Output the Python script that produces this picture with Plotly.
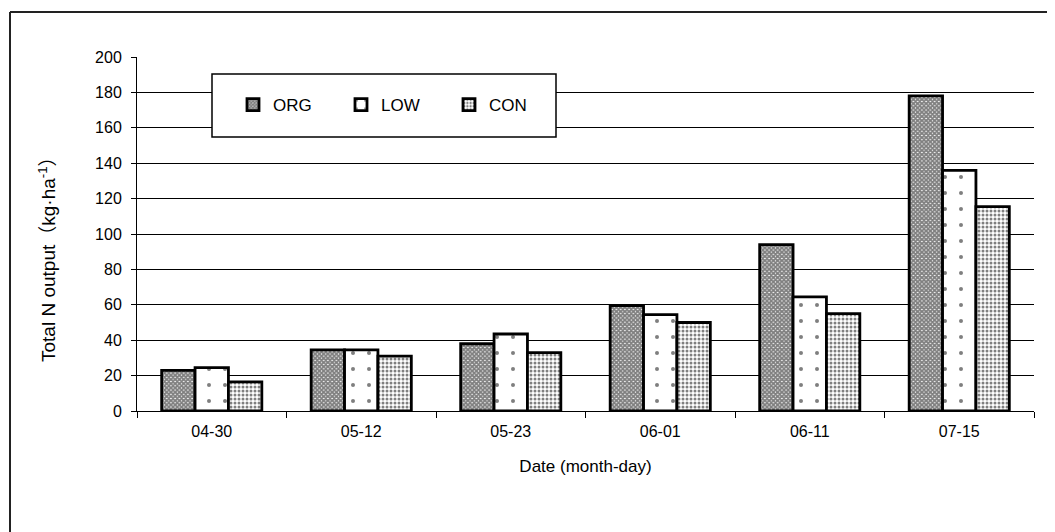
import plotly.graph_objects as go

dates = ["04-30", "05-12", "05-23", "06-01", "06-11", "07-15"]
org = [23, 34.5, 38, 59.5, 94, 178]
low = [24.5, 34.5, 43.5, 54.5, 64.5, 136]
con = [16.5, 31, 33, 50, 55, 115.5]

FONT = "Liberation Sans, Arial, 'Noto Sans CJK SC', sans-serif"
OFF = 8  # page body margin

fig = go.Figure()
fig.add_trace(go.Bar(
    name="ORG", x=dates, y=org,
    marker=dict(color="white", line=dict(color="black", width=2.8),
                pattern=dict(shape="x", size=3, solidity=0.85, fgcolor="black", bgcolor="white", fillmode="overlay")),
))
fig.add_trace(go.Bar(
    name="LOW", x=dates, y=low,
    marker=dict(color="white", line=dict(color="black", width=2.8),
                pattern=dict(shape=".", size=16, solidity=0.05, fgcolor="black", bgcolor="white", fillmode="overlay")),
))
fig.add_trace(go.Bar(
    name="CON", x=dates, y=con,
    marker=dict(color="white", line=dict(color="black", width=2.8),
                pattern=dict(shape=".", size=4, solidity=0.45, fgcolor="black", bgcolor="white", fillmode="overlay")),
))

W, H = 1055 - OFF, 532 - OFF
L, R, T, B = 137 - OFF, 21, 57 - OFF, 121
pw, ph = W - L - R, H - T - B

def px(x):
    return (x - OFF - L) / pw

def py(y):
    return (H - B - (y - OFF)) / ph

shapes = [
    dict(type="line", xref="paper", yref="paper", x0=px(10), x1=px(1070), y0=py(12), y1=py(12),
         line=dict(color="#222", width=2)),
    dict(type="line", xref="paper", yref="paper", x0=px(10), x1=px(10), y0=py(12), y1=py(545),
         line=dict(color="#222", width=2)),
    dict(type="rect", xref="paper", yref="paper", x0=px(212), x1=px(556), y0=py(74), y1=py(137),
         line=dict(color="black", width=1.5), fillcolor="white", layer="above"),
]

annotations = [
    dict(text="Total N output（kg·ha<sup>-1</sup>）", textangle=-90, xref="paper", yref="paper",
         x=px(47), y=py(255), xanchor="center", yanchor="middle", showarrow=False,
         font=dict(family=FONT, size=19, color="black")),
]

fig.update_layout(
    width=W, height=H,
    margin=dict(l=L, r=R, t=T, b=B, autoexpand=False),
    paper_bgcolor="white", plot_bgcolor="white",
    font=dict(family=FONT, size=16, color="black"),
    barmode="group", bargap=0.33, bargroupgap=0,
    shapes=shapes,
    annotations=annotations,
    showlegend=True,
    legend=dict(orientation="h", x=px(233), y=py(105), xanchor="left", yanchor="middle",
                bgcolor="rgba(0,0,0,0)", borderwidth=0, entrywidth=63, entrywidthmode="pixels",
                font=dict(family=FONT, size=17)),
    xaxis=dict(type="category", showline=True, linecolor="black", linewidth=1, ticks="outside",
               ticklen=6, tickcolor="black", tickson="boundaries", showgrid=False,
               ticklabelstandoff=6,
               title=dict(text="Date (month-day)", standoff=20, font=dict(family=FONT, size=17)),
               tickfont=dict(family=FONT, size=16)),
    yaxis=dict(range=[0, 200], dtick=20, showline=True, linecolor="black", linewidth=1,
               ticks="outside", ticklen=5, tickcolor="black", showgrid=True, gridcolor="black",
               gridwidth=1, zeroline=False, ticklabelstandoff=6,
               tickfont=dict(family=FONT, size=16)),
)

fig.write_html("out.html")
